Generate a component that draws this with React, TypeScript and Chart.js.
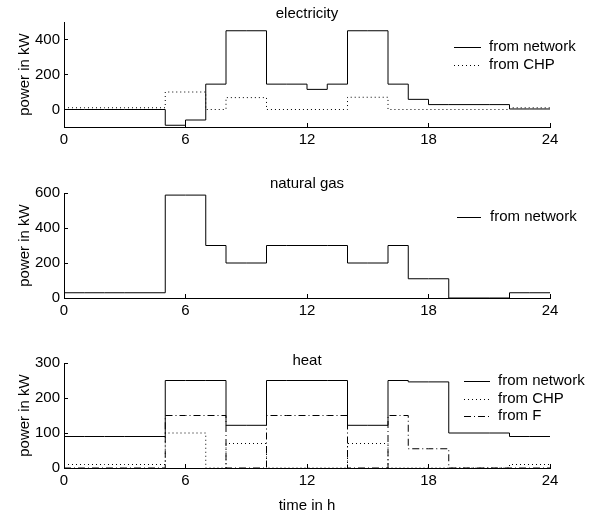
import React, { useEffect, useRef } from 'react';
import { Chart, registerables } from 'chart.js';

Chart.register(...registerables);

// ---- data ----
const hours = [0, 1, 2, 3, 4, 5, 6, 7, 8, 9, 10, 11, 12, 13, 14, 15, 16, 17, 18, 19, 20, 21, 22, 23, 24];
const hourTicks = [0, 6, 12, 18, 24];

// values for each hour slot 0..23 (step held until next hour)
const elecNetwork = [0, 0, 0, 0, 0, -90, -60, 145, 450, 450, 145, 145, 115, 145, 450, 450, 145, 58, 28, 28, 28, 28, 3, 3];
const elecCHP = [10, 10, 10, 10, 10, 100, 100, 0, 68, 68, 0, 0, 0, 0, 70, 70, 0, 0, 0, 0, 0, 0, 10, 10];
const gasNetwork = [30, 30, 30, 30, 30, 588, 588, 300, 200, 200, 300, 300, 300, 300, 200, 200, 300, 110, 110, 0, 0, 0, 30, 30];
const heatNetwork = [90, 90, 90, 90, 90, 250, 250, 250, 122, 122, 250, 250, 250, 250, 122, 122, 250, 246, 246, 100, 100, 100, 90, 90];
const heatCHP = [10, 10, 10, 10, 10, 100, 100, 0, 70, 70, 0, 0, 0, 0, 70, 70, 0, 0, 0, 0, 0, 0, 10, 10];
const heatF = [0, 0, 0, 0, 0, 150, 150, 150, 0, 0, 150, 150, 150, 150, 0, 0, 150, 55, 55, 0, 0, 0, 0, 0];

const elecTicks = [0, 200, 400];
const gasTicks = [0, 200, 400, 600];
const heatTicks = [0, 100, 200, 300];

const seriesNames = ['from network', 'from CHP', 'from F'];
const panelTitles = ['electricity', 'natural gas', 'heat'];
const yAxisLabel = 'power in kW';
const xAxisLabel = 'time in h';

// ---- styling ----
const FONT = '"Liberation Sans", Arial, Helvetica, sans-serif';
const FS = 15;
const DASH_SOLID: number[] = [];
const DASH_DOT = [1, 3];
const DASH_DASHDOT = [7, 3, 1, 3];

function stepPoints(vals: number[]) {
  return hours.map((h, i) => ({ x: h, y: vals[Math.min(i, vals.length - 1)] }));
}

function alignPx(p: number) {
  return Math.round(p - 0.5) + 0.5;
}

const decorPlugin = {
  id: 'decor',
  afterDraw(chart: any, _args: any, opts: any) {
    const { ctx, chartArea: ca, scales } = chart;
    ctx.save();
    ctx.strokeStyle = '#000';
    ctx.lineWidth = 1;
    // inward tick marks
    const xs = scales.x;
    const ys = scales.y;
    xs.ticks.forEach((t: any) => {
      const px = alignPx(xs.getPixelForValue(t.value));
      ctx.beginPath();
      ctx.moveTo(px, ca.bottom);
      ctx.lineTo(px, ca.bottom - 4);
      ctx.stroke();
    });
    ys.ticks.forEach((t: any) => {
      const py = alignPx(ys.getPixelForValue(t.value));
      ctx.beginPath();
      ctx.moveTo(ca.left, py);
      ctx.lineTo(ca.left + 4, py);
      ctx.stroke();
    });
    // panel title
    ctx.font = `${FS}px ${FONT}`;
    ctx.fillStyle = '#000';
    ctx.textAlign = 'center';
    ctx.textBaseline = 'middle';
    ctx.fillText(opts.title, (ca.left + ca.right) / 2, opts.titleY);
    // legend
    chart.data.datasets.forEach((ds: any, i: number) => {
      const y = opts.legY + i * opts.legDy;
      ctx.setLineDash(ds.borderDash || []);
      ctx.beginPath();
      ctx.moveTo(opts.legX0, Math.round(y) + 0.5);
      ctx.lineTo(opts.legX1, Math.round(y) + 0.5);
      ctx.stroke();
      ctx.setLineDash([]);
      ctx.textAlign = 'left';
      ctx.fillText(ds.label, opts.legTx, y);
    });
    ctx.restore();
  },
};

type Series = { label: string; data: number[]; dash: number[] };
type PanelCfg = {
  top: number;
  height: number;
  padTop: number;
  xAxisH: number;
  title: string;
  titleY: number;
  yMin: number;
  yMax: number;
  yTicks: number[];
  series: Series[];
  leg: { x0: number; x1: number; tx: number; y: number; dy: number };
  xTitle: string | null;
};

const panels: PanelCfg[] = [
  {
    top: 0, height: 160, padTop: 22, xAxisH: 33,
    title: panelTitles[0], titleY: 13.5,
    yMin: -100, yMax: 500, yTicks: elecTicks,
    series: [
      { label: seriesNames[0], data: elecNetwork, dash: DASH_SOLID },
      { label: seriesNames[1], data: elecCHP, dash: DASH_DOT },
    ],
    leg: { x0: 454, x1: 481, tx: 489, y: 46.7, dy: 18.3 },
    xTitle: null,
  },
  {
    top: 160, height: 170, padTop: 33, xAxisH: 32,
    title: panelTitles[1], titleY: 23.5,
    yMin: 0, yMax: 600, yTicks: gasTicks,
    series: [{ label: seriesNames[0], data: gasNetwork, dash: DASH_SOLID }],
    leg: { x0: 457, x1: 481, tx: 490, y: 56.7, dy: 18.3 },
    xTitle: null,
  },
  {
    top: 330, height: 185, padTop: 33, xAxisH: 47,
    title: panelTitles[2], titleY: 31,
    yMin: 0, yMax: 300, yTicks: heatTicks,
    series: [
      { label: seriesNames[0], data: heatNetwork, dash: DASH_SOLID },
      { label: seriesNames[1], data: heatCHP, dash: DASH_DOT },
      { label: seriesNames[2], data: heatF, dash: DASH_DASHDOT },
    ],
    leg: { x0: 464, x1: 490, tx: 498, y: 51, dy: 17.5 },
    xTitle: xAxisLabel,
  },
];

function Panel({ cfg }: { cfg: PanelCfg }) {
  const ref = useRef<HTMLCanvasElement | null>(null);
  useEffect(() => {
    if (!ref.current) return;
    const font = { family: FONT, size: FS };
    const chart = new Chart(ref.current, {
      type: 'line',
      data: {
        datasets: cfg.series.map((s) => ({
          label: s.label,
          data: stepPoints(s.data),
          stepped: true,
          borderColor: '#000',
          borderWidth: 1,
          borderDash: s.dash,
          pointRadius: 0,
          fill: false,
          tension: 0,
          clip: false as any,
        })),
      },
      options: {
        responsive: false,
        animation: false,
        devicePixelRatio: 1,
        layout: { padding: { left: 0, right: 47, top: cfg.padTop, bottom: 0 } },
        plugins: {
          legend: { display: false },
          tooltip: { enabled: false },
          title: { display: false },
          decor: {
            title: cfg.title,
            titleY: cfg.titleY,
            legX0: cfg.leg.x0,
            legX1: cfg.leg.x1,
            legTx: cfg.leg.tx,
            legY: cfg.leg.y,
            legDy: cfg.leg.dy,
          },
        } as any,
        scales: {
          x: {
            type: 'linear',
            min: 0,
            max: 24,
            afterBuildTicks: (s: any) => {
              s.ticks = hourTicks.map((v) => ({ value: v }));
            },
            afterFit: (s: any) => {
              s.height = cfg.xAxisH;
            },
            grid: { display: false, drawTicks: false },
            border: { display: true, color: '#000', width: 1 },
            ticks: { font, color: '#000', padding: 4, maxRotation: 0, autoSkip: false },
            title: {
              display: !!cfg.xTitle,
              text: cfg.xTitle || '',
              font,
              color: '#000',
              padding: { top: 0, bottom: 0 },
            },
          },
          y: {
            type: 'linear',
            min: cfg.yMin,
            max: cfg.yMax,
            afterBuildTicks: (s: any) => {
              s.ticks = cfg.yTicks.map((v) => ({ value: v }));
            },
            afterFit: (s: any) => {
              s.width = 64;
            },
            grid: { display: false, drawTicks: false },
            border: { display: true, color: '#000', width: 1 },
            ticks: { font, color: '#000', padding: 4, autoSkip: false },
            title: {
              display: true,
              text: yAxisLabel,
              font,
              color: '#000',
              padding: { top: 16, bottom: 0 },
            },
          },
        },
      } as any,
      plugins: [decorPlugin],
    });
    return () => chart.destroy();
  }, [cfg]);
  return (
    <canvas
      ref={ref}
      width={597}
      height={cfg.height}
      style={{ position: 'absolute', left: 0, top: cfg.top, width: 597, height: cfg.height, display: 'block' }}
    />
  );
}

export default function App() {
  return (
    <div style={{ position: 'absolute', left: 0, top: 0, width: 597, height: 515, background: '#fff', overflow: 'hidden' }}>
      {panels.map((p, i) => (
        <Panel key={i} cfg={p} />
      ))}
    </div>
  );
}
